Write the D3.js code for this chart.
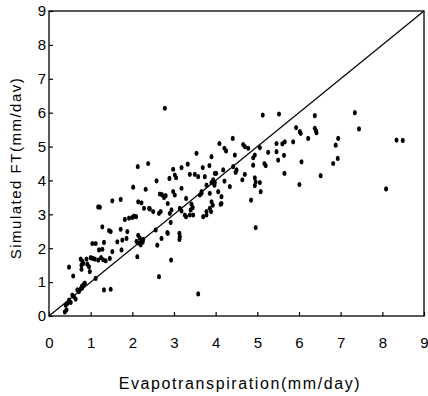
<!DOCTYPE html>
<html>
<head>
<meta charset="utf-8">
<script src="https://cdn.jsdelivr.net/npm/d3@7"></script>
<style>
  body { margin: 0; background: #fff; }
  svg { display: block; font-family: "Liberation Sans", Arial, sans-serif; }
</style>
</head>
<body>
<div id="chart"></div>
<script>
const observed = [
  0.40, 0.44, 0.42, 0.48, 0.38, 0.56, 0.60, 0.52, 0.68, 0.72,
  0.64, 0.79, 0.83, 0.86, 0.80, 0.76, 0.48, 0.58, 0.78, 0.78,
  0.80, 0.76, 0.82, 0.92, 0.96, 0.98, 1.12, 1.32, 1.48, 1.05,
  1.10, 1.18, 1.25, 1.30, 1.36, 1.46, 1.00, 0.90, 1.04, 1.12,
  1.32, 1.64, 1.76, 1.52, 1.20, 1.28, 2.12, 1.28, 1.44, 1.48,
  1.72, 1.88, 1.18, 1.22, 1.52, 1.72, 2.02, 2.32, 2.58, 2.66,
  2.71, 2.80, 2.85, 2.14, 2.22, 2.40, 2.64, 2.68, 2.04, 2.09,
  2.00, 1.82, 1.92, 2.84, 2.60, 2.64, 2.14, 2.18, 2.22, 2.26,
  2.16, 2.20, 2.25, 2.10, 2.13, 2.38, 2.78, 2.98, 3.18, 3.33,
  3.69, 3.85, 3.02, 3.05, 2.89, 3.38, 3.50, 3.58, 3.74, 4.01,
  3.54, 3.90, 4.09, 3.18, 3.78, 3.90, 3.94, 2.76, 2.98, 3.02,
  3.29, 3.62, 3.66, 3.86, 4.06, 2.28, 2.42, 2.94, 2.90, 3.14,
  3.18, 3.42, 3.45, 3.40, 3.78, 3.86, 3.90, 3.29, 3.38, 2.92,
  3.70, 4.41, 4.21, 4.25, 4.66, 4.70, 4.78, 5.06, 5.46, 5.60,
  5.66, 5.46, 4.46, 4.94, 4.90, 5.26, 5.64, 3.98, 4.18, 4.42,
  4.50, 4.48, 4.70, 4.90, 5.17, 5.20, 5.50, 5.65, 3.98, 3.97,
  4.21, 4.34, 4.64, 4.94, 4.96, 4.94, 5.06, 5.08, 4.85, 4.14,
  4.14, 3.93, 3.78, 3.66, 4.96, 2.85, 3.13, 3.14, 3.13, 2.93,
  3.58, 3.26, 3.46, 4.12, 3.89, 7.34, 7.44, 6.38, 5.93, 6.02,
  6.04, 6.38, 6.41, 6.42, 6.22, 5.86, 6.94, 6.88, 8.34, 8.49,
  6.06, 6.93, 6.82, 6.52, 6.01, 8.09, 5.13, 5.52, 2.70, 2.56,
  2.50, 1.86, 1.74
];

const simulated = [
  0.32, 0.37, 0.18, 0.47, 0.12, 0.62, 0.57, 0.40, 0.77, 0.72,
  0.50, 0.88, 0.93, 0.97, 0.83, 0.80, 1.44, 1.18, 1.38, 1.50,
  1.62, 1.68, 1.55, 1.53, 1.45, 1.31, 1.11, 0.77, 0.79, 1.70,
  1.68, 1.65, 1.72, 1.66, 1.63, 1.70, 1.72, 1.68, 2.14, 2.14,
  2.17, 2.19, 2.24, 1.90, 1.95, 1.97, 1.75, 2.63, 2.52, 2.49,
  2.56, 2.49, 3.22, 3.21, 3.40, 3.44, 3.80, 3.74, 3.99, 3.60,
  3.58, 3.55, 3.32, 3.37, 3.34, 3.18, 3.03, 3.08, 2.95, 2.93,
  2.91, 2.85, 2.89, 2.46, 2.09, 1.16, 2.38, 2.30, 2.22, 2.26,
  2.15, 2.10, 2.18, 2.20, 4.41, 4.50, 6.13, 4.33, 4.38, 4.48,
  4.38, 4.44, 4.16, 4.08, 4.06, 4.18, 4.18, 4.11, 4.11, 4.21,
  4.80, 4.70, 5.09, 3.77, 3.86, 3.94, 4.02, 3.50, 3.67, 3.57,
  3.47, 3.57, 3.62, 3.62, 3.67, 3.18, 3.16, 3.13, 3.03, 3.18,
  3.10, 3.30, 3.20, 3.13, 3.08, 3.18, 3.37, 2.93, 2.98, 2.76,
  2.93, 5.24, 4.95, 4.87, 5.06, 5.00, 4.95, 4.97, 5.09, 5.08,
  5.14, 4.85, 4.75, 4.75, 4.67, 4.83, 4.74, 4.21, 4.31, 4.41,
  4.31, 4.24, 4.18, 4.45, 4.50, 4.44, 4.60, 4.21, 3.94, 3.86,
  3.98, 3.82, 4.02, 4.08, 3.96, 3.85, 3.94, 3.67, 3.42, 3.52,
  3.32, 3.27, 2.98, 3.67, 2.61, 2.44, 2.44, 2.34, 2.26, 1.65,
  0.65, 2.98, 2.98, 3.30, 3.08, 6.00, 5.52, 5.91, 5.56, 5.44,
  5.39, 5.54, 5.46, 5.41, 5.24, 5.14, 5.24, 5.04, 5.19, 5.18,
  4.55, 4.65, 4.50, 4.14, 3.88, 3.75, 5.93, 5.96, 2.29, 2.54,
  3.08, 2.29, 1.95
];

const xTicks = [0, 1, 2, 3, 4, 5, 6, 7, 8, 9];
const yTicks = [0, 1, 2, 3, 4, 5, 6, 7, 8, 9];
const oneToOne = [0, 9];

const xTitle = "Evapotranspiration(mm/day)";
const yTitle = "Simulated FT(mm/dav)";

const W = 428, H = 396;
const margin = { top: 11, right: 4, bottom: 80, left: 49 };
const width = W - margin.left - margin.right;
const height = H - margin.top - margin.bottom;

const svg = d3
  .select("#chart")
  .append("svg")
  .attr("width", W)
  .attr("height", H);

const g = svg
  .append("g")
  .attr("transform", "translate(" + margin.left + "," + margin.top + ")");

const x = d3.scaleLinear().domain([0, 9]).range([0, width]);
const y = d3.scaleLinear().domain([0, 9]).range([height, 0]);

// axes, ticks pointing inward
const xAxis = g
  .append("g")
  .attr("transform", "translate(0," + height + ")")
  .call(
    d3.axisBottom(x).tickValues(xTicks).tickFormat(d3.format("d"))
      .tickSizeInner(-4).tickSizeOuter(0).tickPadding(21)
  );

const yAxis = g
  .append("g")
  .call(
    d3.axisLeft(y).tickValues(yTicks).tickFormat(d3.format("d"))
      .tickSizeInner(-4).tickSizeOuter(0).tickPadding(3)
  );

[xAxis, yAxis].forEach((a) => {
  a.select(".domain").remove();
  a.selectAll(".tick line").attr("stroke", "#000").attr("stroke-width", 1.2);
  a.selectAll(".tick text")
    .attr("fill", "#000")
    .style("font-size", "15px")
    .style("font-family", '"Liberation Sans", Arial, sans-serif');
});

// frame
g.append("rect")
  .attr("x", 0)
  .attr("y", 0)
  .attr("width", width)
  .attr("height", height)
  .attr("fill", "none")
  .attr("stroke", "#000")
  .attr("stroke-width", 1.3);

// 1:1 line
g.append("line")
  .attr("x1", x(oneToOne[0]))
  .attr("y1", y(oneToOne[0]))
  .attr("x2", x(oneToOne[1]))
  .attr("y2", y(oneToOne[1]))
  .attr("stroke", "#000")
  .attr("stroke-width", 1.2);

// points
g.append("g")
  .selectAll("ellipse")
  .data(observed.map((d, i) => ({ et: d, sim: simulated[i] })))
  .enter()
  .append("ellipse")
  .attr("cx", (d) => x(d.et))
  .attr("cy", (d) => y(d.sim))
  .attr("rx", 2)
  .attr("ry", 2.6)
  .attr("fill", "#000");

// axis titles
svg.append("text")
  .attr("x", 240)
  .attr("y", 389)
  .attr("text-anchor", "middle")
  .style("font-size", "16px")
  .style("letter-spacing", "1.6px")
  .text(xTitle);

svg.append("text")
  .attr("transform", "translate(21,168)rotate(-90)")
  .attr("text-anchor", "middle")
  .style("font-size", "15px")
  .style("letter-spacing", "1.5px")
  .text(yTitle);
</script>
</body>
</html>
